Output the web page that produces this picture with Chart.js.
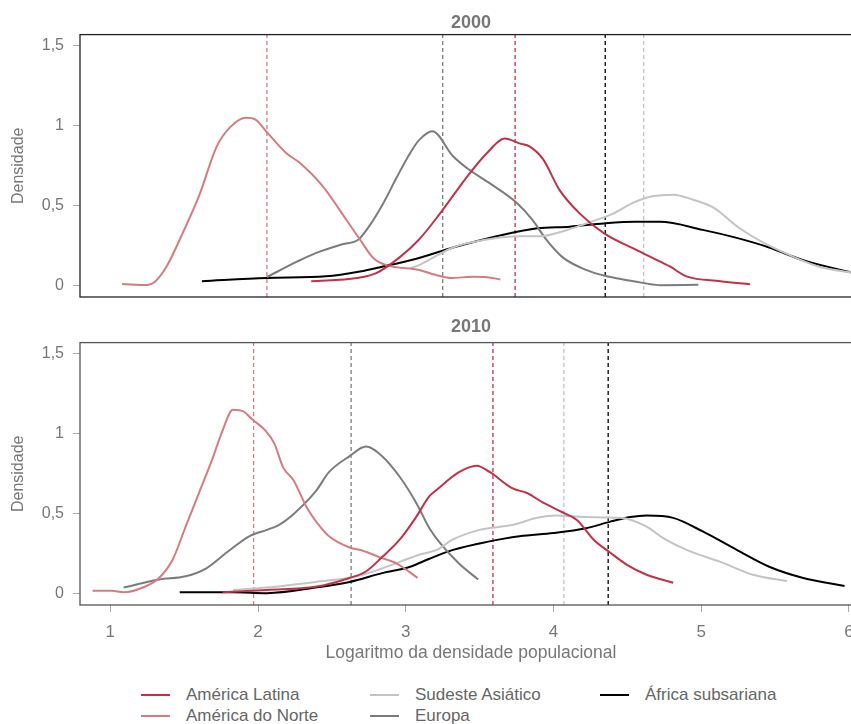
<!DOCTYPE html>
<html>
<head>
<meta charset="utf-8">
<script src="https://cdn.jsdelivr.net/npm/chart.js@4/dist/chart.umd.min.js"></script>
<style>
  html, body { margin: 0; padding: 0; background: #fff; }
  body { width: 851px; height: 724px; overflow: hidden; position: relative; font-family: "Liberation Sans", Arial, sans-serif; }
  canvas { position: absolute; left: 0; }
  #c2000 { top: 0; }
  #c2010 { top: 310px; }
  #legend {
    position: absolute; left: 141px; top: 684px;
    display: grid; grid-template-columns: 229px 230px auto; grid-template-rows: 21px 21px;
    grid-auto-flow: column; color: #666; font-size: 17px;
  }
  #legend .item { display: flex; align-items: center; white-space: nowrap; }
  #legend .swatch { width: 29px; height: 2px; margin-right: 16px; }
</style>
</head>
<body>
<canvas id="c2000" width="880" height="300"></canvas>
<canvas id="c2010" width="880" height="360"></canvas>
<div id="legend"></div>
<script>
// regions, in legend order
const regions = ['América Latina', 'América do Norte', 'Sudeste Asiático', 'Europa', 'África subsariana'];
const regionColors = ['#c3304a', '#d47c84', '#c4c4c4', '#7c7c7c', '#000000'];

// density curves, [log density, density]
const latina2000 = [[2.36,0.03],[2.67,0.05],[2.80,0.08],[2.96,0.18],[3.09,0.29],[3.23,0.45],[3.43,0.70],[3.55,0.83],[3.67,0.92],[3.77,0.89],[3.84,0.87],[3.93,0.79],[4.04,0.60],[4.18,0.45],[4.34,0.33],[4.56,0.225],[4.67,0.175],[4.79,0.12],[4.90,0.06],[5.13,0.03],[5.33,0.01]];
const norte2000 = [[1.08,0.012],[1.25,0.006],[1.30,0.025],[1.38,0.12],[1.49,0.33],[1.60,0.56],[1.72,0.87],[1.81,0.99],[1.92,1.05],[1.98,1.04],[2.06,0.96],[2.19,0.83],[2.28,0.77],[2.44,0.62],[2.60,0.41],[2.69,0.29],[2.78,0.175],[2.87,0.13],[3.09,0.10],[3.20,0.07],[3.31,0.05],[3.45,0.057],[3.55,0.055],[3.64,0.04]];
const sudeste2000 = [[3.03,0.11],[3.09,0.13],[3.32,0.24],[3.55,0.29],[3.77,0.31],[3.91,0.31],[4.06,0.34],[4.22,0.39],[4.40,0.45],[4.54,0.52],[4.67,0.56],[4.81,0.57],[4.94,0.54],[5.08,0.49],[5.26,0.36],[5.42,0.27],[5.58,0.20],[5.80,0.12],[6.01,0.085],[6.09,0.075]];
const europa2000 = [[2.06,0.055],[2.26,0.15],[2.39,0.205],[2.57,0.26],[2.68,0.29],[2.75,0.37],[2.85,0.52],[2.94,0.68],[3.03,0.83],[3.09,0.91],[3.18,0.965],[3.32,0.81],[3.43,0.725],[3.57,0.64],[3.75,0.52],[3.86,0.41],[3.95,0.29],[4.06,0.18],[4.22,0.10],[4.36,0.06],[4.54,0.03],[4.72,0.005],[4.98,0.007]];
const africa2000 = [[1.62,0.03],[2.06,0.05],[2.46,0.06],[2.69,0.09],[2.84,0.12],[3.09,0.175],[3.32,0.24],[3.66,0.32],[3.89,0.36],[4.11,0.37],[4.34,0.39],[4.56,0.40],[4.72,0.40],[5.01,0.35],[5.24,0.30],[5.46,0.24],[5.69,0.16],[6.01,0.085],[6.09,0.07]];

const latina2010 = [[1.76,0.01],[2.06,0.025],[2.39,0.045],[2.62,0.10],[2.73,0.14],[2.84,0.23],[2.96,0.34],[3.07,0.48],[3.16,0.61],[3.21,0.65],[3.36,0.76],[3.48,0.80],[3.57,0.76],[3.72,0.66],[3.82,0.63],[3.93,0.57],[4.06,0.51],[4.16,0.46],[4.27,0.34],[4.38,0.26],[4.50,0.18],[4.63,0.12],[4.81,0.07]];
const norte2010 = [[0.88,0.02],[1.01,0.02],[1.09,0.01],[1.22,0.04],[1.33,0.10],[1.42,0.21],[1.51,0.42],[1.60,0.63],[1.69,0.84],[1.76,1.02],[1.83,1.15],[1.90,1.14],[1.96,1.09],[2.05,1.02],[2.11,0.94],[2.17,0.79],[2.24,0.71],[2.33,0.54],[2.42,0.42],[2.48,0.36],[2.62,0.29],[2.71,0.27],[2.82,0.23],[2.94,0.19],[3.08,0.10]];
const sudeste2010 = [[1.83,0.025],[2.06,0.04],[2.39,0.075],[2.67,0.11],[2.96,0.20],[3.09,0.245],[3.21,0.275],[3.32,0.34],[3.50,0.40],[3.72,0.43],[3.89,0.475],[4.02,0.49],[4.22,0.48],[4.45,0.475],[4.63,0.42],[4.74,0.35],[4.90,0.275],[5.13,0.20],[5.35,0.12],[5.58,0.08]];
const europa2010 = [[1.09,0.04],[1.33,0.09],[1.51,0.11],[1.65,0.16],[1.79,0.26],[1.94,0.36],[2.06,0.40],[2.14,0.43],[2.23,0.49],[2.39,0.64],[2.48,0.76],[2.62,0.86],[2.73,0.92],[2.84,0.86],[2.96,0.73],[3.07,0.57],[3.16,0.41],[3.23,0.32],[3.36,0.19],[3.49,0.09]];
const africa2010 = [[1.47,0.01],[1.83,0.01],[2.06,0.005],[2.39,0.04],[2.62,0.075],[2.84,0.13],[3.03,0.17],[3.16,0.22],[3.32,0.275],[3.55,0.325],[3.77,0.36],[4.00,0.38],[4.22,0.41],[4.38,0.45],[4.52,0.48],[4.63,0.49],[4.81,0.475],[5.01,0.39],[5.24,0.275],[5.46,0.17],[5.69,0.10],[5.97,0.05]];

// mean lines (dashed), same order as regions
const means2000 = [3.74, 2.06, 4.61, 3.25, 4.35];
const means2010 = [3.59, 1.97, 4.07, 2.63, 4.37];

const xTicks = [1, 2, 3, 4, 5, 6];
const yTicks = [0, 0.5, 1, 1.5];
const xRange = [0.795, 6.088];
const yRange = [-0.069, 1.569];

Chart.defaults.font.family = '"Liberation Sans", Arial, sans-serif';
Chart.defaults.color = '#777';

const toPoints = (arr) => arr.map(([x, y]) => ({ x: x, y: y }));

// box round the plot area
const framePlugin = {
    id: 'frame',
    afterDraw(chart, args, opts) {
        const { ctx, chartArea: a } = chart;
        ctx.save();
        ctx.strokeStyle = opts.color;
        ctx.lineWidth = 1.3;
        ctx.strokeRect(a.left, a.top, a.right - a.left, a.bottom - a.top);
        ctx.restore();
    }
};

function buildDatasets(curves, means) {
    const lines = curves.map((c, i) => ({
        label: regions[i],
        data: toPoints(c),
        borderColor: regionColors[i],
        borderWidth: 2,
        pointRadius: 0,
        cubicInterpolationMode: 'monotone',
        order: 1
    }));
    const dashes = means.map((m, i) => ({
        label: regions[i] + ' média',
        data: [{ x: m, y: yRange[0] }, { x: m, y: yRange[1] }],
        borderColor: regionColors[i],
        borderWidth: 1.3,
        borderDash: [4, 3],
        pointRadius: 0,
        order: 2
    }));
    return lines.concat(dashes);
}

function makeChart(id, year, curves, means, showX, frameColor) {
    const titlePad = showX ? { top: 6, bottom: 5 } : { top: 12, bottom: 1 };
    return new Chart(document.getElementById(id), {
        type: 'line',
        data: { datasets: buildDatasets(curves, means) },
        options: {
            responsive: false,
            animation: false,
            layout: { padding: { top: 0, right: 18, bottom: showX ? 5 : 3, left: 0 } },
            plugins: {
                legend: { display: false },
                tooltip: { enabled: false },
                title: {
                    display: true, text: year, fullSize: false,
                    color: '#777', font: { size: 18, weight: 'bold' }, padding: titlePad
                },
                frame: { color: frameColor }
            },
            scales: {
                x: {
                    type: 'linear', min: xRange[0], max: xRange[1],
                    display: showX,
                    afterBuildTicks: (s) => { s.ticks = xTicks.map((v) => ({ value: v })); },
                    afterFit: (s) => { s.height = showX ? 60 : 0; s.paddingLeft = 0; s.paddingRight = 0; },
                    ticks: { font: { size: 17 }, padding: 10, color: '#777' },
                    grid: { drawOnChartArea: false, tickLength: 7, color: '#aaa' },
                    border: { display: false },
                    title: {
                        display: true, text: 'Logaritmo da densidade populacional',
                        font: { size: 17.5 }, color: '#777', padding: { top: 0, bottom: 1 }
                    }
                },
                y: {
                    type: 'linear', min: yRange[0], max: yRange[1],
                    afterBuildTicks: (s) => { s.ticks = yTicks.map((v) => ({ value: v })); },
                    afterFit: (s) => { s.width = 80; s.paddingTop = 0; s.paddingBottom = 0; },
                    ticks: {
                        font: { size: 16 }, padding: 9, color: '#777',
                        callback: (v) => String(v).replace('.', ',')
                    },
                    grid: { drawOnChartArea: false, tickLength: 7, color: '#aaa' },
                    border: { display: false },
                    title: {
                        display: true, text: 'Densidade',
                        font: { size: 16 }, color: '#777', padding: { top: 9, bottom: 0 }
                    }
                }
            }
        },
        plugins: [framePlugin]
    });
}

makeChart('c2000', '2000', [latina2000, norte2000, sudeste2000, europa2000, africa2000], means2000, false, '#222');
makeChart('c2010', '2010', [latina2010, norte2010, sudeste2010, europa2010, africa2010], means2010, true, '#555');

// legend, three columns filled top to bottom
const legendEl = document.getElementById('legend');
regions.forEach((name, i) => {
    const item = document.createElement('div');
    item.className = 'item';
    const sw = document.createElement('span');
    sw.className = 'swatch';
    sw.style.background = regionColors[i];
    const txt = document.createElement('span');
    txt.textContent = name;
    item.appendChild(sw);
    item.appendChild(txt);
    legendEl.appendChild(item);
});
</script>
</body>
</html>
